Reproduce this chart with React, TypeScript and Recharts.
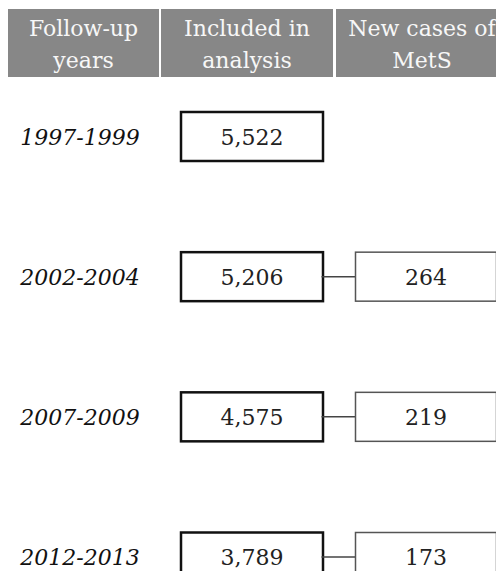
import React from 'react';
import { ComposedChart, Scatter, XAxis, YAxis } from 'recharts';

// Column headers (two lines each), follow-up periods and counts per period
const headers = [
  ['Follow-up', 'years'],
  ['Included in', 'analysis'],
  ['New cases of', 'MetS'],
];
const periods = ['1997-1999', '2002-2004', '2007-2009', '2012-2013'];
const included = [5522, 5206, 4575, 3789];
const newCases: (number | null)[] = [null, 264, 219, 173];

const FONT = "'DejaVu Serif', Georgia, serif";
const W = 496;
const H = 571;

// keep the page from growing scrollbars
if (typeof document !== 'undefined') {
  document.documentElement.style.overflow = 'hidden';
  document.body.style.overflow = 'hidden';
}

// left/right edges of the grey header cells
const HEADER_SPANS = [
  [0, 151],
  [153, 325],
  [328, 500],
];

const labelData = periods.map((p, i) => ({ x: 0, y: i, label: p }));
const includedData = included.map((v, i) => ({ x: 1, y: i, value: v }));
const newData = newCases
  .map((v, i) => ({ x: 2, y: i, value: v }))
  .filter(d => d.value !== null);

const fmt = (v: number) => v.toLocaleString('en-US');

const HeaderTick = ({ payload }: any) => {
  const i = payload.value as number;
  const span = HEADER_SPANS[i];
  if (!span) return null;
  const cx = (span[0] + span[1]) / 2;
  return (
    <g>
      <rect x={span[0]} y={1} width={span[1] - span[0]} height={68} fill="#878787" />
      <text x={cx} y={28} textAnchor="middle" fill="#f7f7f7" fontSize={22} fontFamily={FONT}>
        {headers[i][0]}
      </text>
      <text x={cx} y={60} textAnchor="middle" fill="#f7f7f7" fontSize={22} fontFamily={FONT}>
        {headers[i][1]}
      </text>
    </g>
  );
};

const LabelShape = ({ cx, cy, payload }: any) => (
  <text
    x={cx + 2}
    y={cy + 8}
    textAnchor="middle"
    fontSize={22}
    fontStyle="italic"
    fontFamily={FONT}
    fill="#111"
  >
    {payload.label}
  </text>
);

const IncludedShape = ({ cx, cy, payload }: any) => (
  <g>
    <rect x={cx - 71} y={cy - 24.5} width={142} height={49} fill="#fff" stroke="#111" strokeWidth={2.5} />
    <text x={cx} y={cy + 8} textAnchor="middle" fontSize={22} fontFamily={FONT} fill="#222">
      {fmt(payload.value)}
    </text>
  </g>
);

const NewCaseShape = ({ cx, cy, payload }: any) => (
  <g>
    <line x1={cx - 70.5 - 34} y1={cy} x2={cx - 70.5} y2={cy} stroke="#444" strokeWidth={1.5} />
    <rect x={cx - 70.5} y={cy - 24.5} width={141} height={49} fill="#fff" stroke="#555" strokeWidth={1.5} />
    <text x={cx} y={cy + 8} textAnchor="middle" fontSize={22} fontFamily={FONT} fill="#222">
      {fmt(payload.value)}
    </text>
  </g>
);

const App: React.FC = () => {
  return (
    <div style={{ width: W, height: H, marginBottom: -8, overflow: 'hidden' }}>
      <ComposedChart width={W} height={H} margin={{ top: 59.5, right: 78, bottom: 22, left: 70 }}>
        <XAxis
          type="number"
          dataKey="x"
          orientation="top"
          domain={[0, 2]}
          ticks={[0, 1, 2]}
          height={69}
          axisLine={false}
          tickLine={false}
          tick={<HeaderTick />}
          interval={0}
        />
        <YAxis type="number" dataKey="y" domain={[0, 3]} reversed hide />
        <Scatter data={labelData} shape={<LabelShape />} isAnimationActive={false} />
        <Scatter data={includedData} shape={<IncludedShape />} isAnimationActive={false} />
        <Scatter data={newData} shape={<NewCaseShape />} isAnimationActive={false} />
      </ComposedChart>
    </div>
  );
};

export default App;
